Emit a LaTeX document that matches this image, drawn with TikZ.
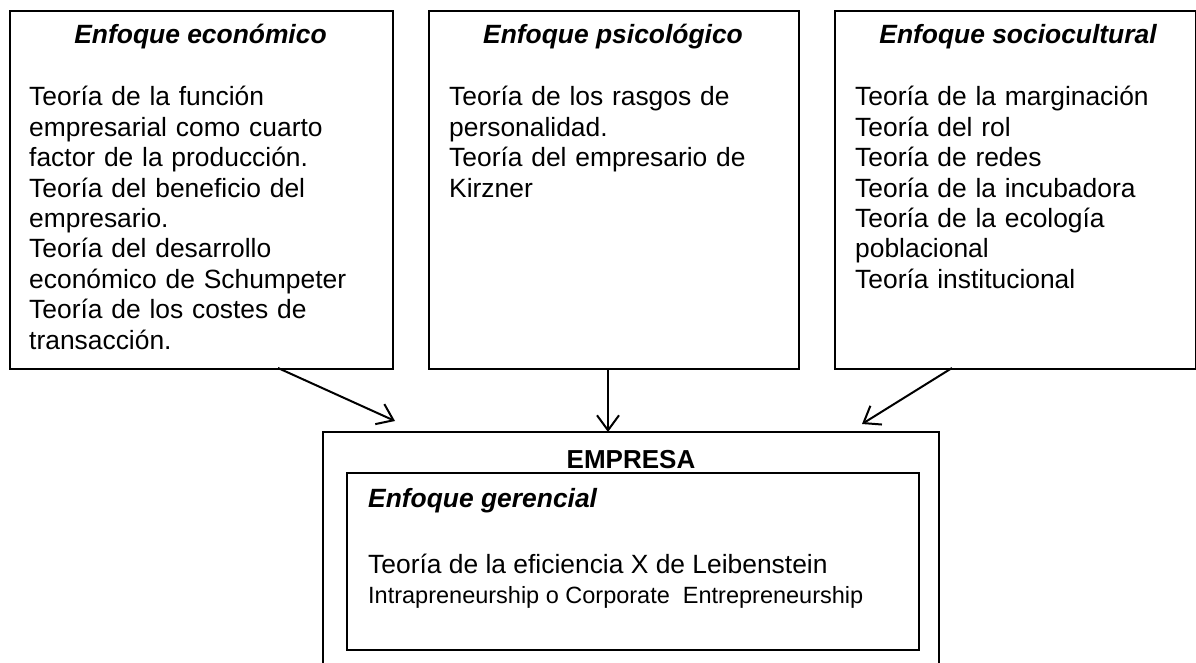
\documentclass[tikz,border=0pt]{standalone}
\usepackage{fontspec}
\setmainfont{Liberation Sans}
\usetikzlibrary{arrows.meta}
\tikzset{
  boxline/.style={draw=black, line width=2pt},
  bigbox/.style={boxline, rectangle, inner sep=0pt, anchor=north west},
  title/.style={anchor=base, inner sep=0pt, font=\fontsize{26.4pt}{30.4pt}\selectfont\bfseries\itshape},
  body/.style={anchor=base west, inner sep=0pt, align=left, text width=#1, font=\fontsize{26.4pt}{30.4pt}\selectfont},
  arr/.style={line width=2pt, -{Straight Barb[length=15pt, width=22pt, line width=2pt]}}
}
\begin{document}
\begin{tikzpicture}[x=1pt,y=-1pt]
\useasboundingbox (0,0) rectangle (1196,663);
% top boxes
\node[bigbox, minimum width=383pt, minimum height=358pt] (eco) at (9,10) {};
\node[bigbox, minimum width=370pt, minimum height=358pt] (psi) at (428,10) {};
\node[bigbox, minimum width=361pt, minimum height=358pt] (soc) at (834,10) {};
\node[title] (ecot) at (200.5,44) {Enfoque económico};
\node[title] (psit) at (613,44) {Enfoque psicológico};
\node[title] (soct) at (1018,44) {Enfoque sociocultural};
\node[body=355pt] (ecob) at (29,106) {Teoría de la función\\ empresarial como cuarto\\ factor de la producción.\\ Teoría del beneficio del\\ empresario.\\ Teoría del desarrollo\\ económico de Schumpeter\\ Teoría de los costes de\\ transacción.};
\node[body=340pt] (psib) at (449,106) {Teoría de los rasgos de\\ personalidad.\\ Teoría del empresario de\\ Kirzner};
\node[body=335pt] (socb) at (855,106) {Teoría de la marginación\\ Teoría del rol\\ Teoría de redes\\ Teoría de la incubadora\\ Teoría de la ecología\\ poblacional\\ Teoría institucional};
% bottom
\node[rectangle, inner sep=0pt, anchor=north west, minimum width=616pt, minimum height=260pt] (emp) at (323,432) {};
\draw[boxline] (emp.south west) -- (emp.north west) -- (emp.north east) -- (emp.south east);
\node[anchor=base, inner sep=0pt, font=\fontsize{26pt}{30pt}\selectfont\bfseries] (empt) at (631,468) {EMPRESA};
\node[bigbox, minimum width=572pt, minimum height=177pt] (ger) at (346,472) {};
\node[anchor=base west, inner sep=0pt, font=\fontsize{26.4pt}{30.4pt}\selectfont\bfseries\itshape] (gert) at (368,507) {Enfoque gerencial};
\node[anchor=base west, inner sep=0pt, font=\fontsize{26.4pt}{30.4pt}\selectfont] (gerb1) at (368,573) {Teoría de la eficiencia X de Leibenstein};
\node[anchor=base west, inner sep=0pt, font=\fontsize{23.5pt}{28pt}\selectfont] (gerb2) at (368,603) {Intrapreneurship o Corporate\ \ Entrepreneurship};
% arrows
\coordinate (a1s) at (278,368);
\coordinate (a1e) at (395,421);
\coordinate (a2s) at (608,368);
\coordinate (a2e) at (608,432);
\coordinate (a3s) at (952,368);
\coordinate (a3e) at (862,424);
\draw[arr] (a1s) -- (a1e);
\draw[arr] (a2s) -- (a2e);
\draw[arr] (a3s) -- (a3e);
\end{tikzpicture}
\end{document}
